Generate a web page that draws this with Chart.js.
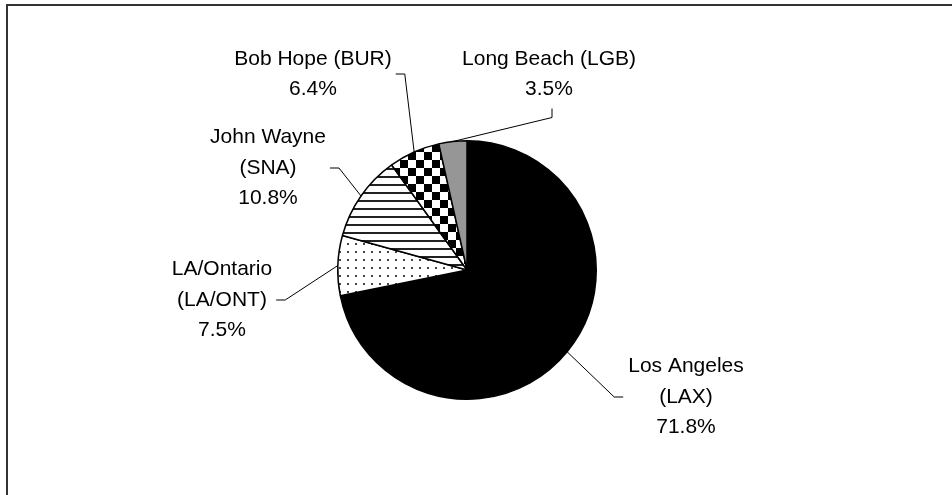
<!DOCTYPE html>
<html lang="en">
<head>
<meta charset="UTF-8">
<title>Airport passenger share</title>
<script src="https://cdn.jsdelivr.net/npm/chart.js"></script>
<style>
  body { margin: 0; background: #fff; }
  #wrap { position: relative; width: 952px; height: 495px; }
</style>
</head>
<body>
<div id="wrap"><canvas id="pieChart" width="952" height="495"></canvas></div>
<script>
// slices clockwise from 12 o'clock
const airports = ['Los Angeles (LAX)', 'LA/Ontario (LA/ONT)', 'John Wayne (SNA)', 'Bob Hope (BUR)', 'Long Beach (LGB)'];
const labelLines = [['Los Angeles', '(LAX)'], ['LA/Ontario', '(LA/ONT)'], ['John Wayne', '(SNA)'], ['Bob Hope (BUR)'], ['Long Beach (LGB)']];
const shares = [71.8, 7.5, 10.8, 6.4, 3.5];

// label block centre, relative to pie centre, and which side the leader meets
const labelPos = [
  { dx: 219, dy: 127, side: 'left' },
  { dx: -245, dy: 30, side: 'right' },
  { dx: -199, dy: -102, side: 'right' },
  { dx: -154, dy: -196, side: 'right' },
  { dx: 82, dy: -196, side: 'bottom' }
];
const LINE_H = 30.5;
const FONT = '21px "Liberation Sans", Arial, sans-serif';

function makePattern(size, draw) {
  const c = document.createElement('canvas');
  c.width = size; c.height = size;
  const g = c.getContext('2d');
  g.fillStyle = '#fff';
  g.fillRect(0, 0, size, size);
  draw(g);
  return g.createPattern(c, 'repeat');
}

const ctx0 = document.getElementById('pieChart').getContext('2d');
const dots = makePattern(8, g => { g.fillStyle = '#444'; g.fillRect(3, 3, 2, 2); });
const stripes = makePattern(8, g => { g.fillStyle = '#222'; g.fillRect(0, 0, 8, 2); });
const checker = makePattern(16, g => { g.fillStyle = '#000'; g.fillRect(0, 0, 8, 8); g.fillRect(8, 8, 8, 8); });

const calloutPlugin = {
  id: 'callouts',
  beforeDraw(chart) {
    const ctx = chart.ctx;
    ctx.save();
    ctx.strokeStyle = '#333';
    ctx.lineWidth = 2;
    ctx.beginPath();
    ctx.moveTo(952, 5);
    ctx.lineTo(7, 5);
    ctx.lineTo(7, 495);
    ctx.stroke();
    ctx.restore();
  },
  afterDatasetsDraw(chart) {
    const ctx = chart.ctx;
    const meta = chart.getDatasetMeta(0);
    ctx.save();
    ctx.font = FONT;
    ctx.fillStyle = '#000';
    ctx.strokeStyle = '#000';
    ctx.lineWidth = 1;
    ctx.textAlign = 'center';
    ctx.textBaseline = 'middle';
    meta.data.forEach((arc, i) => {
      const p = arc.getProps(['x', 'y', 'startAngle', 'endAngle', 'outerRadius'], true);
      const mid = (p.startAngle + p.endAngle) / 2;
      const ax = p.x + Math.cos(mid) * p.outerRadius;
      const ay = p.y + Math.sin(mid) * p.outerRadius;
      const lines = labelLines[i].concat(shares[i].toFixed(1) + '%');
      const pos = labelPos[i];
      const cx = p.x + pos.dx, cy = p.y + pos.dy;
      const w = Math.max(...lines.map(t => ctx.measureText(t).width));
      const h = lines.length * LINE_H;
      let px, py, ex, ey;
      if (pos.side === 'left') { px = cx - w / 2 - 5; py = cy; ex = px - 9; ey = py; }
      else if (pos.side === 'right') { px = cx + w / 2 + 4; py = cy; ex = px + 9; ey = py; }
      else { px = cx + 3; py = cy + h / 2 + 4; ex = px; ey = py + 9; }
      ctx.beginPath();
      ctx.moveTo(ax, ay);
      ctx.lineTo(ex, ey);
      ctx.lineTo(px, py);
      ctx.stroke();
      lines.forEach((t, k) => ctx.fillText(t, cx, cy + (k - (lines.length - 1) / 2) * LINE_H));
    });
    ctx.restore();
  }
};

new Chart(ctx0, {
  type: 'pie',
  data: {
    labels: airports,
    datasets: [{
      data: shares,
      backgroundColor: ['#000', dots, stripes, checker, '#969696'],
      borderColor: '#000',
      borderWidth: 1.5
    }]
  },
  options: {
    responsive: false,
    animation: false,
    events: [],
    layout: { padding: { top: 140, bottom: 95, left: 200, right: 218 } },
    plugins: {
      legend: { display: false },
      tooltip: { enabled: false }
    }
  },
  plugins: [calloutPlugin]
});
</script>
</body>
</html>
